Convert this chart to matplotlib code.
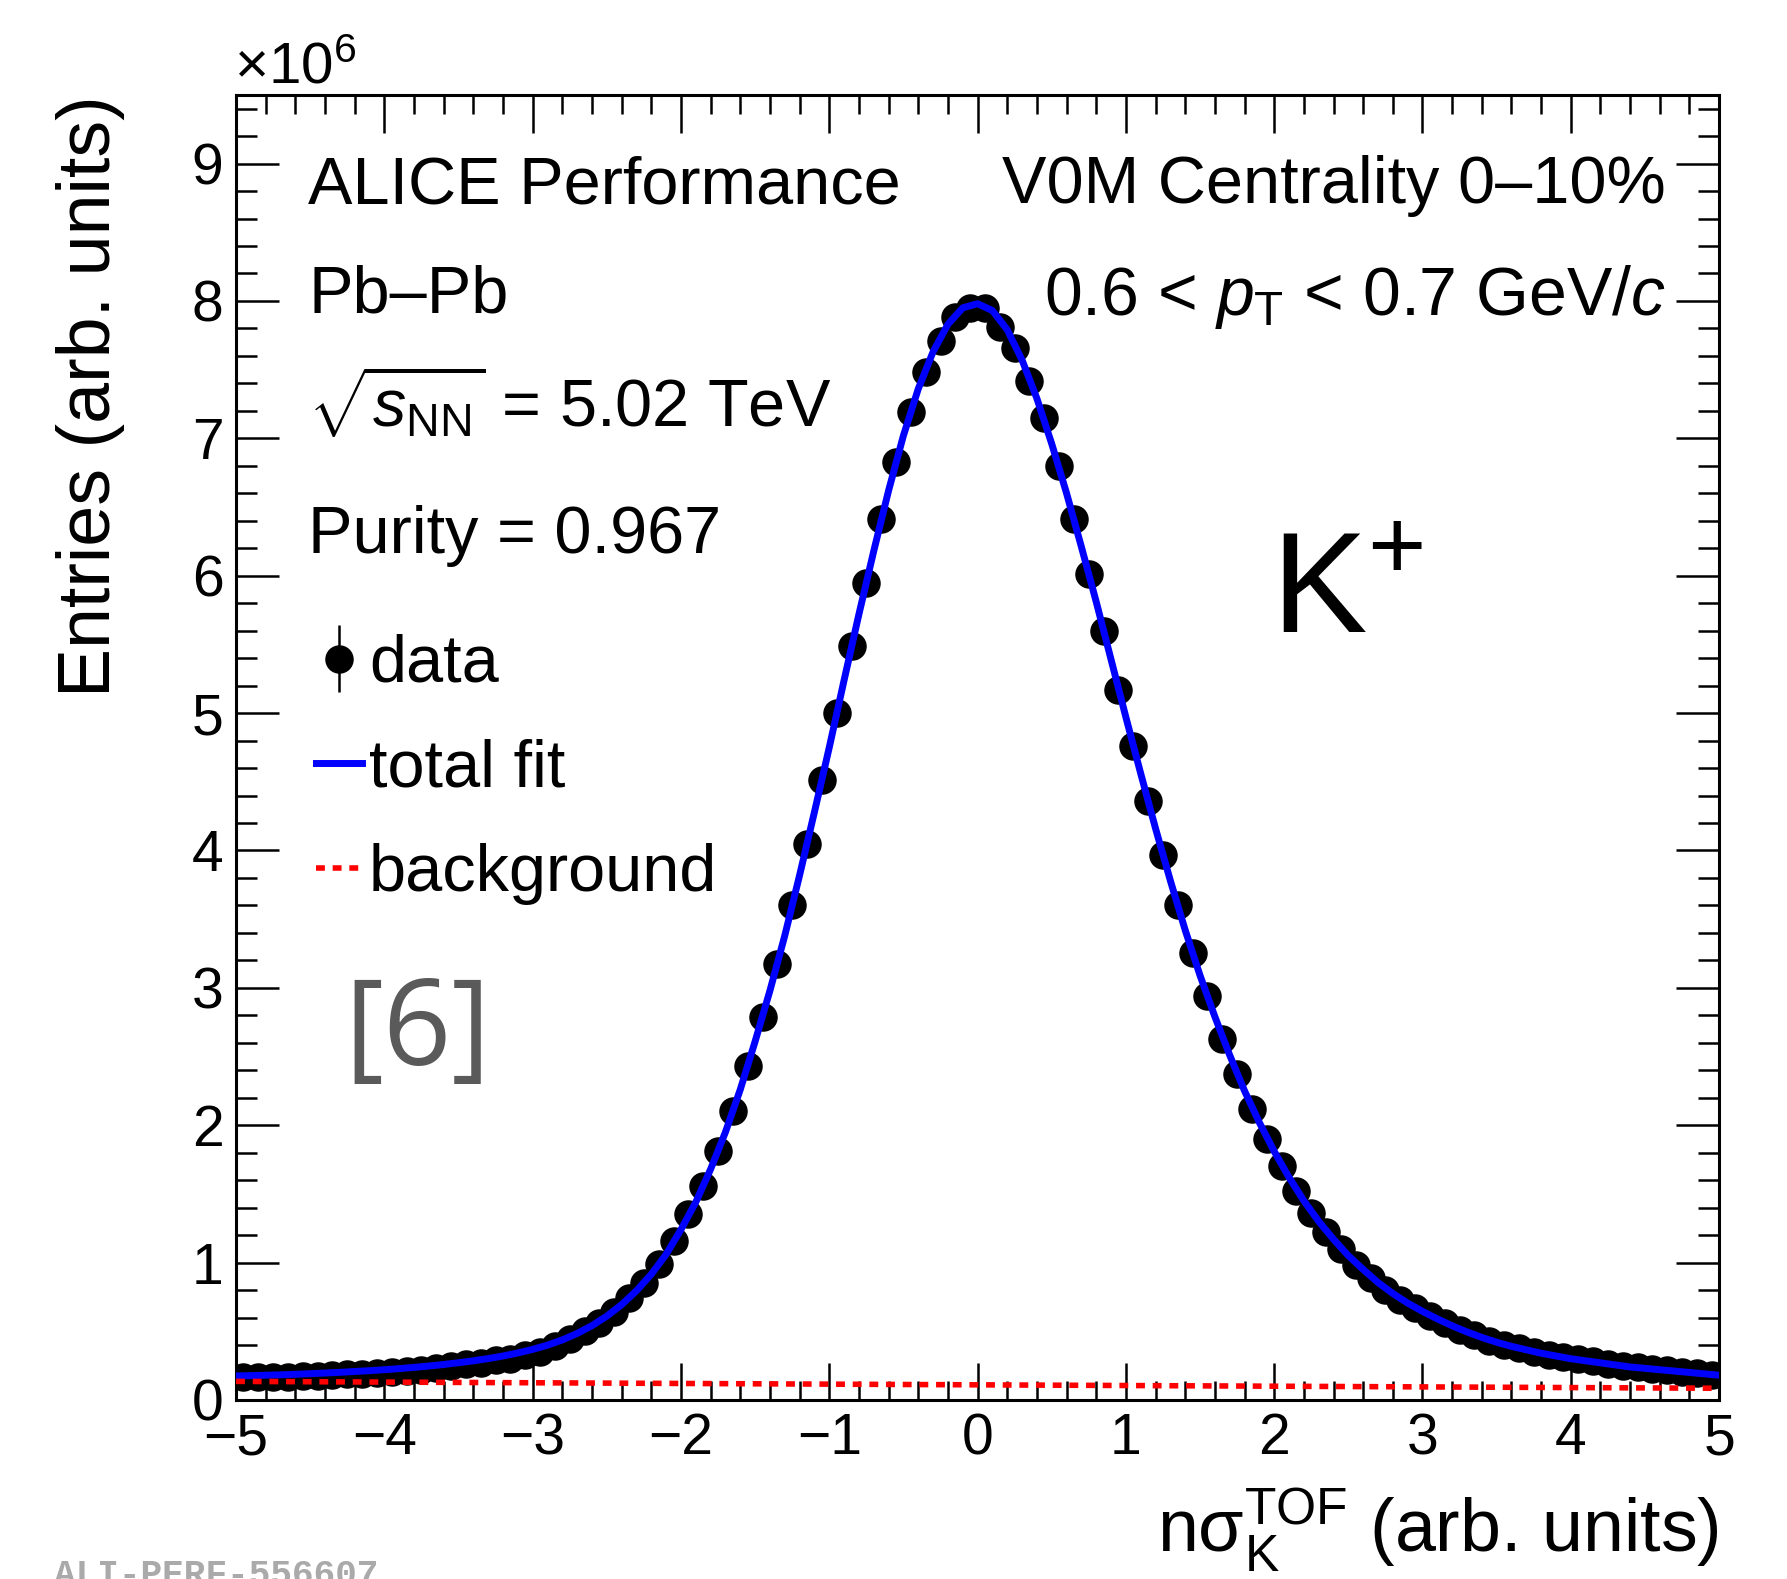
import numpy as np
import matplotlib
matplotlib.use("Agg")
import matplotlib.pyplot as plt
from matplotlib.ticker import MultipleLocator

# n sigma TOF bin centres (bin width 0.1)
bin_centers = np.round(np.arange(-4.95, 5.0, 0.1), 2)

# entries per bin, in units of 1e6
entries = [
    0.165, 0.165, 0.168, 0.170, 0.173, 0.177, 0.181, 0.186, 0.191, 0.197,
    0.203, 0.211, 0.220, 0.232, 0.245, 0.260, 0.270, 0.290, 0.300, 0.330,
    0.350, 0.390, 0.440, 0.500, 0.560, 0.640, 0.740, 0.850, 0.990, 1.160,
    1.350, 1.560, 1.810, 2.100, 2.430, 2.790, 3.170, 3.600, 4.050, 4.510,
    5.000, 5.490, 5.950, 6.410, 6.830, 7.190, 7.480, 7.710, 7.880, 7.950,
    7.950, 7.810, 7.660, 7.420, 7.150, 6.800, 6.410, 6.010, 5.600, 5.170,
    4.760, 4.360, 3.970, 3.600, 3.250, 2.940, 2.630, 2.370, 2.120, 1.900,
    1.700, 1.520, 1.360, 1.220, 1.100, 0.980, 0.886, 0.800, 0.730, 0.670,
    0.610, 0.560, 0.510, 0.470, 0.430, 0.400, 0.375, 0.350, 0.330, 0.310,
    0.295, 0.280, 0.265, 0.250, 0.240, 0.225, 0.215, 0.205, 0.195, 0.185,
]
stat_err = 0.003  # hidden below the markers

# total fit, sampled on the bin edges (units of 1e6)
fit_x = np.round(np.arange(-5.0, 5.05, 0.1), 2)
fit_y = [
    0.175, 0.177, 0.180, 0.183, 0.187, 0.191, 0.196, 0.201, 0.207, 0.213,
    0.220, 0.228, 0.237, 0.247, 0.258, 0.271, 0.285, 0.301, 0.320, 0.342,
    0.368, 0.399, 0.437, 0.484, 0.541, 0.610, 0.694, 0.795, 0.915, 1.060,
    1.240, 1.440, 1.680, 1.950, 2.260, 2.610, 2.980, 3.380, 3.820, 4.280,
    4.750, 5.240, 5.720, 6.180, 6.620, 7.020, 7.360, 7.630, 7.830, 7.950,
    7.980, 7.930, 7.790, 7.570, 7.290, 6.960, 6.600, 6.210, 5.810, 5.390,
    4.970, 4.560, 4.160, 3.780, 3.420, 3.090, 2.790, 2.510, 2.250, 2.020,
    1.810, 1.620, 1.450, 1.300, 1.170, 1.050, 0.950, 0.855, 0.775, 0.705,
    0.645, 0.590, 0.540, 0.495, 0.455, 0.420, 0.390, 0.365, 0.340, 0.320,
    0.300, 0.285, 0.270, 0.255, 0.240, 0.230, 0.220, 0.210, 0.200, 0.190,
    0.180,
]

# background component
bkg_x = [-5.0, 5.0]
bkg_y = [0.135, 0.085]

plt.rcParams["font.family"] = ["Liberation Sans", "DejaVu Sans"]
plt.rcParams["mathtext.fontset"] = "custom"
plt.rcParams["mathtext.rm"] = "Liberation Sans"
plt.rcParams["mathtext.it"] = "Liberation Sans:italic"
plt.rcParams["mathtext.bf"] = "Liberation Sans:bold"

fig = plt.figure(figsize=(17.87, 15.79), dpi=100)
ax = fig.add_axes([0.1321, 0.1134, 0.8299, 0.8265])

h_data = ax.errorbar(bin_centers, entries, yerr=stat_err, fmt="o", ms=19.5,
                     color="black", elinewidth=1.8, capsize=0, zorder=2, label="data")
h_fit, = ax.plot(fit_x, fit_y, color="#0000ff", lw=5.0, zorder=3, label="total fit")
h_bkg, = ax.plot(bkg_x, bkg_y, color="#ff0000", lw=4.0, dashes=(1.6, 1.4), zorder=4,
                 label="background")

ax.set_xlim(-5, 5)
ax.set_ylim(0, 9.5)
ax.xaxis.set_major_locator(MultipleLocator(1))
ax.xaxis.set_minor_locator(MultipleLocator(0.2))
ax.yaxis.set_major_locator(MultipleLocator(1))
ax.yaxis.set_minor_locator(MultipleLocator(0.2))
ax.tick_params(which="both", direction="in", top=True, right=True,
               width=1.8, labelsize=41, pad=9)
ax.tick_params(axis="x", which="major", length=27)
ax.tick_params(axis="x", which="minor", length=13.5)
ax.tick_params(axis="y", which="major", length=31)
ax.tick_params(axis="y", which="minor", length=15)
for sp in ax.spines.values():
    sp.set_linewidth(2.2)

ax.set_ylabel("Entries (arb. units)", fontsize=53, ha="right", va="center")
ax.yaxis.set_label_coords(-0.098, 1.0)
ax.set_xlabel("n\u03c3$_{\\mathrm{K}}^{\\mathrm{TOF}}$ (arb. units)", fontsize=53,
              ha="right", va="baseline")
ax.xaxis.set_label_coords(1.0, -0.117)

fig.text(234 / 1787, 1 - 83 / 1579, r"$\times$10$^{6}$", fontsize=42)

txt = dict(transform=ax.transAxes, fontsize=48, va="baseline")
ax.text(0.0486, 0.917, "ALICE Performance", ha="left", **txt)
ax.text(0.0486, 0.833, "Pb\u2013Pb", ha="left", **txt)
ax.text(0.0486, 0.7456, r"$\sqrt{s_{\mathrm{NN}}}$ = 5.02 TeV", ha="left", **txt)
ax.text(0.0486, 0.649, "Purity = 0.967", ha="left", **txt)
ax.text(0.9643, 0.917, "V0M Centrality 0\u201310%", ha="right", **txt)
ax.text(0.9643, 0.8314, r"0.6 < $p_{\mathrm{T}}$ < 0.7 GeV/$c$", ha="right",
        transform=ax.transAxes, fontsize=49, va="baseline")
ax.text(0.698, 0.588, r"K$^{+}$", ha="left", transform=ax.transAxes,
        fontsize=103, va="baseline")
ax.text(0.1227, 0.280, "[6]", ha="center", va="center", transform=ax.transAxes,
        fontsize=86, color="#5a5a5a", family="Open Sans")

ax.legend(handles=[h_data, h_fit, h_bkg], loc="upper left",
          bbox_to_anchor=(0.054, 0.587), frameon=False,
          fontsize=48, handlelength=0.69, handletextpad=0.1, labelspacing=0.64,
          borderpad=0, borderaxespad=0)

fig.text(54 / 1787, -0.004, "ALI-PERF-556607", fontsize=26, color="#aaaaaa",
         family="Liberation Mono", weight="bold", va="baseline")

fig.savefig("out.png", dpi=100)
